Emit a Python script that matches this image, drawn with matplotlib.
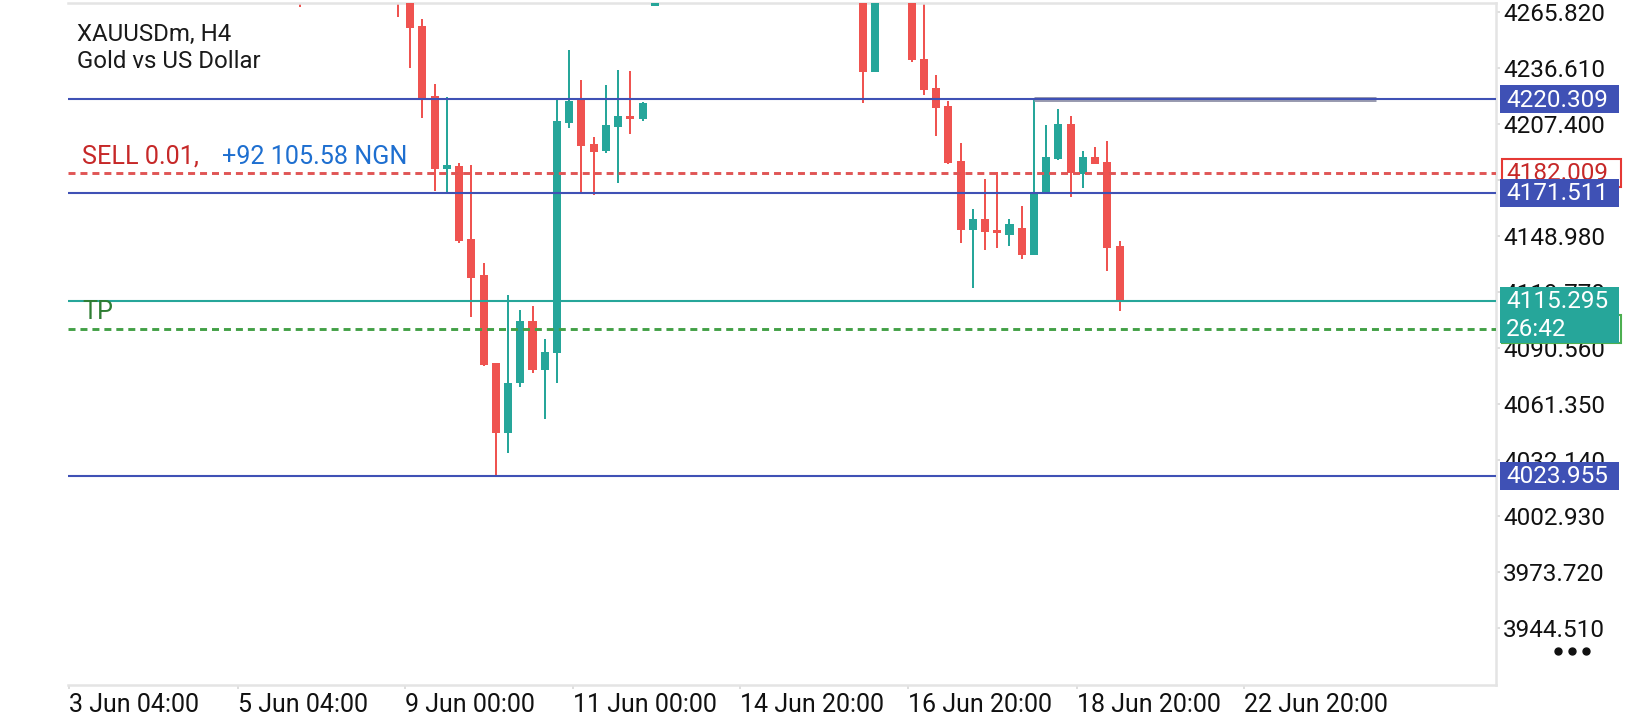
import numpy as np
import matplotlib
matplotlib.use("Agg")
import matplotlib.pyplot as plt
from matplotlib.patches import Rectangle

plt.rcParams['font.family'] = ['Roboto', 'DejaVu Sans']

nan = np.nan
# ---- data: H4 bars (index 0 = first bar of the big drop); NaN = bar above the visible range
bar_start = -8
opens = ([4290] + [nan] * 7 +
         [4300, 4282, 4258.5, 4222.0, 4183.7, 4185.5, 4147.4, 4128.6, 4082.6, 4046.0,
          4072.1, 4104.6, 4079.1, 4087.8, 4208.1, 4220.3, 4196.8, 4193.5, 4206.0, 4211.6,
          4209.9, 4269.1] + [nan] * 16 +
         [4285, 4234.7, nan, nan, 4285, 4241.1, 4226.0, 4216.8, 4188.1, 4152.1, 4157.8,
          4152.1, 4149.5, 4153.0, 4139.1, 4170.7, 4189.1, 4207.4, 4181.3, 4190.0, 4187.7, 4143.9])
highs = ([4296] + [nan] * 7 +
         [4305, 4290, 4262.0, 4228.1, 4221.3, 4186.9, 4186.0, 4134.7, 4082.6, 4118.2,
          4110.4, 4112.5, 4095.1, 4220.4, 4246.0, 4230.3, 4200.5, 4227.7, 4235.6, 4235.0,
          4219.0, 4290] + [nan] * 16 +
         [4290, 4285, nan, nan, 4290, 4275, 4233.0, 4219.3, 4197.3, 4162.9, 4178.5,
          4182.5, 4157.8, 4164.6, 4220.3, 4206.9, 4215.2, 4211.6, 4193.3, 4195.5, 4198.5, 4146.5])
lows = ([4268.2] + [nan] * 7 +
        [4263.1, 4236.4, 4210.4, 4172.6, 4171.8, 4145.5, 4106.9, 4081.2, 4023.96, 4035.9,
         4070.4, 4077.6, 4053.3, 4072.1, 4205.1, 4172.1, 4170.4, 4192.1, 4176.8, 4202.0,
         4209.1, 4269.1] + [nan] * 16 +
        [4218.5, 4234.7, nan, nan, 4239.9, 4222.5, 4201.1, 4186.5, 4145.5, 4121.7, 4141.7,
         4142.6, 4143.8, 4137.1, 4139.1, 4170.7, 4188.6, 4169.5, 4174.2, 4186.6, 4130.9, 4109.8])
closes = ([4282] + [nan] * 7 +
          [4282, 4257.3, 4220.8, 4183.7, 4186.0, 4146.5, 4127.2, 4081.7, 4046.3, 4072.1,
           4104.6, 4079.1, 4088.6, 4208.9, 4219.4, 4196.1, 4193.0, 4206.9, 4211.6, 4209.9,
           4218.5, 4285] + [nan] * 16 +
          [4234.7, 4280, nan, nan, 4240.8, 4225.1, 4215.9, 4186.9, 4152.1, 4157.8, 4151.2,
           4150.4, 4155.2, 4139.1, 4171.6, 4190.3, 4207.4, 4182.0, 4190.3, 4186.6, 4142.9, 4115.295])

level_lines = [4220.309, 4171.511, 4023.955]
sell_price = 4182.009
current_price = 4115.295
tp_price = 4100.5
timer_text = "26:42"
high_marker = (52, 80, 4220.309)

ytick_values = [4265.820, 4236.610, 4207.400, 4178.190, 4148.980, 4119.770,
                4090.560, 4061.350, 4032.140, 4002.930, 3973.720, 3944.510]
xtick_labels = ["3 Jun 04:00", "5 Jun 04:00", "9 Jun 00:00", "11 Jun 00:00",
                "14 Jun 20:00", "16 Jun 20:00", "18 Jun 20:00", "22 Jun 20:00"]
xtick_pos = [-26.9, -13.12, 0.57, 14.31, 27.96, 41.74, 55.48, 69.17]

UP = '#26a69a'
DOWN = '#ef5350'
BLUE = '#3f51b5'

W, H = 1640, 720
fig = plt.figure(figsize=(W / 100, H / 100), dpi=100)
fig.patch.set_facecolor('white')
ax = fig.add_axes([68 / W, (H - 685) / H, (1496 - 68) / W, (685 - 3) / H])
ax.set_xlim(-26.98, 89.78)
ax.set_ylim(3914.78, 4270.51)

o = np.array(opens, float); h = np.array(highs, float)
l = np.array(lows, float); c = np.array(closes, float)
x = np.arange(bar_start, bar_start + len(o))
ok = ~np.isnan(o)
up = c >= o
cols = np.where(up, UP, DOWN)
ax.vlines(x[ok], l[ok], h[ok], colors=cols[ok], lw=1.44, zorder=2)
body_lo = np.minimum(o, c)
body_h = np.maximum(np.abs(c - o), 1.3)
ax.bar(x[ok], body_h[ok], bottom=body_lo[ok], width=0.66, color=cols[ok],
       linewidth=0, zorder=3)

# horizontal objects
ax.hlines(high_marker[2], high_marker[0], high_marker[1], color='#9a9cb0', lw=3.6, zorder=4)
for v in level_lines:
    ax.axhline(v, color=BLUE, lw=1.5, zorder=5)
ax.axhline(sell_price, color='#e05555', lw=2.1, dashes=(2.4, 1.7), zorder=5)
ax.axhline(current_price, color=UP, lw=1.5, zorder=5)
ax.axhline(tp_price, color='#43a047', lw=2.1, dashes=(2.4, 1.7), zorder=5)

# spines / ticks
ax.spines['left'].set_visible(False)
for s in ['top', 'right', 'bottom']:
    ax.spines[s].set_color('#e4e4e4')
    ax.spines[s].set_linewidth(1.8)
ax.yaxis.tick_right()
ax.set_yticks(ytick_values)
ax.set_yticklabels([f"{v:.3f}" for v in ytick_values])
ax.set_xticks(xtick_pos)
ax.set_xticklabels(xtick_labels, ha='left')
ax.tick_params(axis='y', right=True, left=False, length=3, width=1.2, color='#d8d8d8',
               labelsize=17.5, labelcolor='#111111', pad=2)
ax.tick_params(axis='x', length=3, width=1.2, color='#d8d8d8', labelsize=18,
               labelcolor='#111111', pad=3)


def ypx(v):
    return H - ax.transData.transform((0, v))[1]


# overlay in pixel coordinates for labels and price boxes
ov = fig.add_axes([0, 0, 1, 1], zorder=5)
ov.set_xlim(0, W)
ov.set_ylim(H, 0)
ov.axis('off')
ov.patch.set_alpha(0)

ov.text(77, 34, "XAUUSDm, H4", fontsize=17.3, color='#1a1a1a', va='center', ha='left')
ov.text(77, 62, "Gold vs US Dollar", fontsize=17.3, color='#1a1a1a', va='center', ha='left')
ys = ypx(sell_price)
ov.text(82, ys - 16, "SELL 0.01,", fontsize=18.1, color='#c62828', va='center', ha='left')
ov.text(222, ys - 16, "+92 105.58 NGN", fontsize=18.1, color='#1e6fd0', va='center', ha='left')
ov.text(82, ypx(tp_price) - 17, "TP", fontsize=18.1, color='#2e7d32', va='center', ha='left')

FS = 17.5
z = [10]


def box(v, fc, ec=None, tc='white', lines=(), h=28, x0=1500, w=119, lw=0):
    y = ypx(v)
    z[0] += 2
    ov.add_patch(Rectangle((x0, y - 14), w, h, facecolor=fc,
                           edgecolor=ec if ec else fc, lw=lw, zorder=z[0]))
    for k, t in enumerate(lines):
        ov.text(1506, y + 1 + 28 * k, t, fontsize=FS, color=tc, va='center',
                ha='left', zorder=z[0] + 1)


box(level_lines[0], BLUE, lines=[f"{level_lines[0]:.3f}"])
box(sell_price, 'white', ec='#e53935', tc='#c62828', lines=[f"{sell_price:.3f}"],
    x0=1502.5, lw=1.5)
box(level_lines[1], BLUE, lines=[f"{level_lines[1]:.3f}"])
box(tp_price, 'white', ec='#4caf50', x0=1502.5, lw=1.5)
box(current_price, UP, h=56, lines=[f"{current_price:.3f}", timer_text])
box(level_lines[2], BLUE, lines=[f"{level_lines[2]:.3f}"])

ov.plot([1558, 1572, 1586], [651, 651, 651], 'o', ms=5, color='#111111')

fig.savefig("out.png", dpi=100, facecolor='white')
